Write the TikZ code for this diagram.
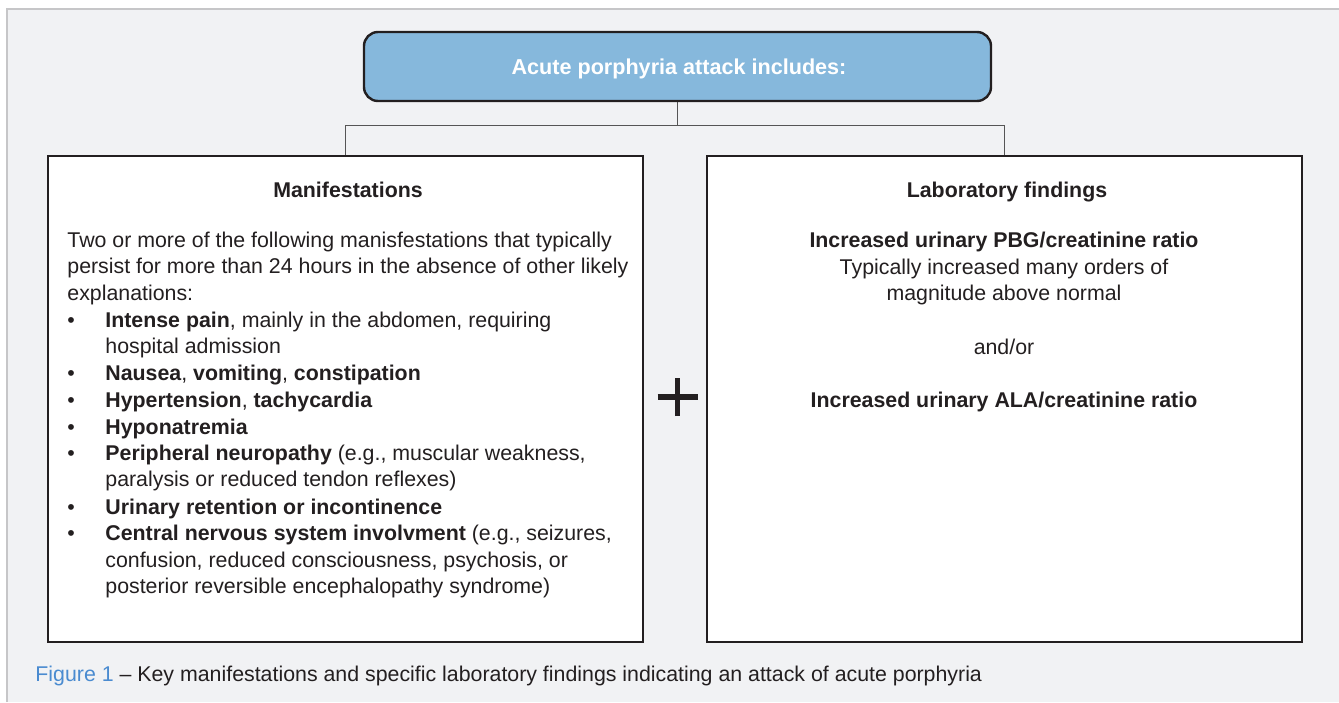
\documentclass[tikz,border=0pt]{standalone}
\usepackage{fontspec}
\setmainfont{Liberation Sans}
\usepackage{tikz}
\usetikzlibrary{positioning}
\pgfdeclarelayer{edgelayer}
\pgfdeclarelayer{nodelayer}
\pgfsetlayers{edgelayer,nodelayer,main}
\definecolor{panelgray}{HTML}{F1F2F4}
\definecolor{panelline}{HTML}{C6C6C8}
\definecolor{headblue}{HTML}{86B8DC}
\definecolor{ink}{HTML}{231F20}
\definecolor{linkgray}{HTML}{555555}
\definecolor{figblue}{HTML}{4A8BD0}
\tikzstyle{headbox}=[draw=ink, line width=1.2pt, fill=headblue, rounded corners=7pt, minimum width=313.5pt, minimum height=34.5pt, inner sep=0pt]
\tikzstyle{panelbox}=[draw=ink, line width=1.2pt, fill=white, minimum width=297.5pt, minimum height=243pt, inner sep=0pt]
\tikzstyle{link}=[draw=linkgray, line width=0.5pt]
\tikzstyle{body}=[anchor=base west, inner sep=0pt, text=ink, font=\fontsize{10.67}{13}\selectfont]
\tikzstyle{bodyc}=[body, anchor=base]
\tikzstyle{bodyb}=[bodyc, font=\fontsize{10.67}{13}\selectfont\bfseries]
\tikzstyle{bullet}=[body]

\begin{document}
\begin{tikzpicture}[x=0.5pt, y=-0.5pt]
	\useasboundingbox (0,0) rectangle (1339,702);
	\begin{pgfonlayer}{edgelayer}
		\fill [panelgray] (7,9) rectangle (1339,702);
		\draw [panelline, line width=0.6pt] (7,702) -- (7,9) -- (1339,9);
	\end{pgfonlayer}
	\begin{pgfonlayer}{nodelayer}
		\node [style=headbox] (top) at (677.5,66.5) {};
		\node [style=panelbox] (lbox) at (345.5,399) {};
		\node [style=panelbox] (rbox) at (1004.5,399) {};
		\coordinate (fork) at (677.5,125);
	\end{pgfonlayer}
	\begin{pgfonlayer}{edgelayer}
		\draw [style=link] (top) -- (fork);
		\draw [style=link] (fork) -| (lbox);
		\draw [style=link] (fork) -| (rbox);
	\end{pgfonlayer}

	% heading
	\node [style=bodyc, text=white, font=\fontsize{10.8}{13}\selectfont\bfseries] (title) at (679,74) {Acute porphyria attack includes:};

	% left panel
	\node [style=bodyb] (lhead) at (348,197) {Manifestations};
	\node [style=body] (p1) at (67,247) {Two or more of the following manisfestations that typically};
	\node [style=body] (p2) at (67,273.5) {persist for more than 24 hours in the absence of other likely};
	\node [style=body] (p3) at (67,300) {explanations:};
	\foreach \y/\n in {327/1, 380/2, 407/3, 434/4, 460/5, 514/6, 540/7}
		\node [style=bullet] (b\n) at (67,\y) {•};
	\node [style=body] (i1) at (105,327) {\textbf{Intense pain}, mainly in the abdomen, requiring};
	\node [style=body] (i1b) at (105,353) {hospital admission};
	\node [style=body] (i2) at (105,380) {\textbf{Nausea}, \textbf{vomiting}, \textbf{constipation}};
	\node [style=body] (i3) at (105,407) {\textbf{Hypertension}, \textbf{tachycardia}};
	\node [style=body] (i4) at (105,434) {\textbf{Hyponatremia}};
	\node [style=body] (i5) at (105,460) {\textbf{Peripheral neuropathy} (e.g., muscular weakness,};
	\node [style=body] (i5b) at (105,486.5) {paralysis or reduced tendon reflexes)};
	\node [style=body] (i6) at (105,514) {\textbf{Urinary retention or incontinence}};
	\node [style=body] (i7) at (105,540) {\textbf{Central nervous system involvment} (e.g., seizures,};
	\node [style=body] (i7b) at (105,567) {confusion, reduced consciousness, psychosis, or};
	\node [style=body] (i7c) at (105,593) {posterior reversible encephalopathy syndrome)};

	% plus
	\coordinate (plus) at (677.5,397);
	\draw [ink, line width=2.6pt] ([xshift=-10pt]plus) -- ([xshift=10pt]plus);
	\draw [ink, line width=2.6pt] ([yshift=-9.5pt]plus) -- ([yshift=9.5pt]plus);

	% right panel
	\node [style=bodyb] (rhead) at (1007,197) {Laboratory findings};
	\node [style=bodyb] (r1) at (1004,247) {Increased urinary PBG/creatinine ratio};
	\node [style=bodyc] (r2) at (1004,274) {Typically increased many orders of};
	\node [style=bodyc] (r3) at (1004,300) {magnitude above normal};
	\node [style=bodyc] (r4) at (1004,354) {and/or};
	\node [style=bodyb] (r5) at (1004,407) {Increased urinary ALA/creatinine ratio};

	% caption
	\node [style=body] (cap) at (35,681) {\textcolor{figblue}{Figure 1} – Key manifestations and specific laboratory findings indicating an attack of acute porphyria};
\end{tikzpicture}
\end{document}
